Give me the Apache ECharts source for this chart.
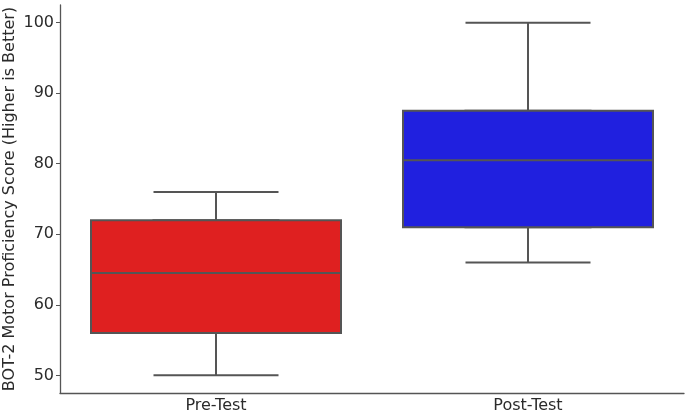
<!DOCTYPE html>
<html>
<head>
<meta charset="utf-8">
<script src="https://cdn.jsdelivr.net/npm/echarts@6/dist/echarts.min.js"></script>
<style>
  html, body { margin: 0; padding: 0; background: #fff; }
  #chart { width: 685px; height: 412px; }
</style>
</head>
<body>
<div id="chart"></div>
<script>
// box stats: [lower whisker, Q1, median, Q3, upper whisker]
const categories = ['Pre-Test', 'Post-Test']
const preTest = [50, 56, 64.5, 72, 76]
const postTest = [66, 71, 80.5, 87.5, 100]
const boxColors = ['#df2020', '#2020df']
const yTicks = [50, 60, 70, 80, 90, 100]

const lineColor = '#555555'
const textColor = '#2b2b2b'
const font = 'DejaVu Sans'
const allStats = [preTest, postTest]

const chart = echarts.init(document.getElementById('chart'))

const catAxis = (show) => ({
  type: 'category',
  data: categories,
  boundaryGap: true,
  show: show,
  axisLine: { lineStyle: { color: lineColor, width: 1.3 } },
  axisTick: { alignWithLabel: true, length: 4, lineStyle: { color: lineColor } },
  axisLabel: { color: textColor, fontFamily: font, fontSize: 16, margin: 5 },
  splitLine: { show: false }
})

const option = {
  animation: false,
  grid: {
    left: 60,
    right: 1,
    top: 5,
    bottom: 19,
    containLabel: false,
    outerBoundsMode: 'none'
  },
  // second category axis only so the two boxplot series overlay instead of sitting side by side
  xAxis: [catAxis(true), catAxis(false)],
  yAxis: {
    type: 'value',
    min: 47.5,
    max: 102.5,
    name: 'BOT-2 Motor Proficiency Score (Higher is Better)',
    nameLocation: 'middle',
    nameGap: 42,
    nameMoveOverlap: false,
    nameTextStyle: { color: textColor, fontFamily: font, fontSize: 16 },
    axisLine: { show: true, lineStyle: { color: lineColor, width: 1.3 } },
    axisTick: { show: true, length: 4, customValues: yTicks, lineStyle: { color: lineColor } },
    axisLabel: { color: textColor, fontFamily: font, fontSize: 16, margin: 6, customValues: yTicks },
    splitLine: { show: false }
  },
  series: [
    // whiskers with caps at half the box width
    {
      type: 'boxplot',
      xAxisIndex: 0,
      z: 2,
      boxWidth: [125, 125],
      data: allStats.map((v) => ({
        value: v,
        itemStyle: { color: '#fff', borderColor: lineColor, borderWidth: 2 }
      }))
    },
    // the boxes themselves, whiskers collapsed onto Q1/Q3
    {
      type: 'boxplot',
      xAxisIndex: 1,
      z: 3,
      boxWidth: [250, 250],
      data: allStats.map((v, i) => ({
        value: [v[1], v[1], v[2], v[3], v[3]],
        itemStyle: { color: boxColors[i], borderColor: lineColor, borderWidth: 2 }
      }))
    }
  ]
}

chart.setOption(option)
</script>
</body>
</html>
